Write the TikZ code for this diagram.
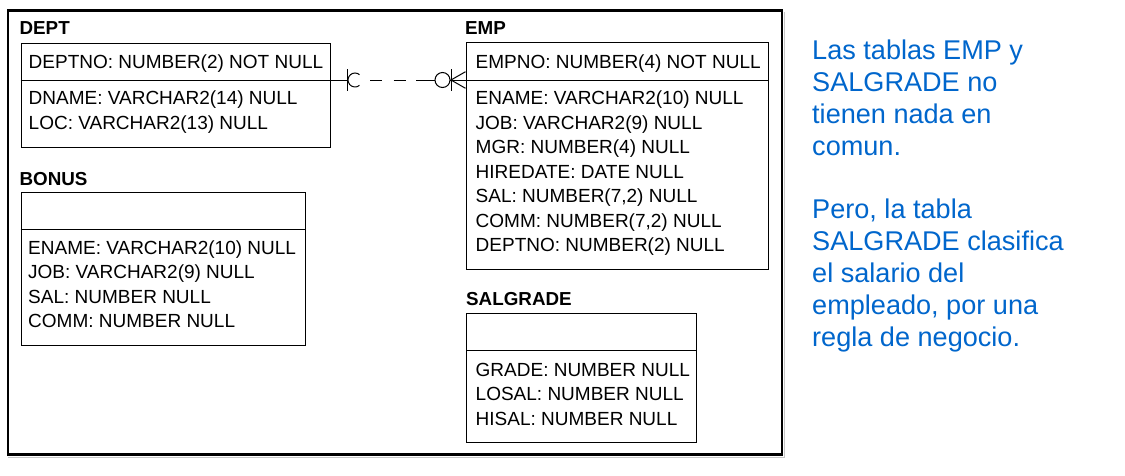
\documentclass[tikz,border=0pt]{standalone}
\usepackage{fontspec}
\setmainfont{Liberation Sans}
\usetikzlibrary{calc}
\definecolor{noteblue}{RGB}{0,102,204}
\tikzset{
  tbl/.style={draw=black, line width=1pt, inner sep=0pt, anchor=north west},
  ttl/.style={font=\fontsize{18.8}{19}\selectfont\bfseries, anchor=base west, inner sep=0pt},
  attr/.style={font=\fontsize{19}{20}\selectfont, anchor=base west, inner sep=0pt},
  note/.style={font=\fontsize{27.1}{32}\selectfont, text=noteblue, anchor=base west, inner sep=0pt},
  frame/.style={draw=black, line width=2.7pt},
  rel/.style={line width=1pt},
  sepline/.style={line width=1pt},
}
\begin{document}
\begin{tikzpicture}[x=1pt,y=-1pt]
\useasboundingbox (0,0) rectangle (1125,475);
\fill[white] (0,0) rectangle (1125,475);
% outer frame with faint shadow
\draw[gray!45, line width=1pt] (8,457) -- (784.5,457) -- (784.5,12);
\draw[frame] (8,10.7) rectangle (782,454.7);

% ---------- DEPT ----------
\node[ttl] (deptt) at (19.4,34.5) {DEPT};
\node[tbl, minimum width=309pt, minimum height=104pt] (dept) at (20.5,42.7) {};
\draw[sepline] (dept.west |- 0,80) -- (dept.east |- 0,80);
\node[attr] (d1) at (28.5,68.5) {DEPTNO: NUMBER(2) NOT NULL};
\node[attr] (d2) at (28.5,104.7) {DNAME: VARCHAR2(14) NULL};
\node[attr] (d3) at (28.5,129.2) {LOC: VARCHAR2(13) NULL};

% ---------- EMP ----------
\node[ttl] (empt) at (465,34.5) {EMP};
\node[tbl, minimum width=302.5pt, minimum height=226.7pt] (emp) at (465.5,42.3) {};
\draw[sepline] (emp.west |- 0,80) -- (emp.east |- 0,80);
\node[attr] (e1) at (475.5,68.5) {EMPNO: NUMBER(4) NOT NULL};
\node[attr] (e2) at (475.5,104.5) {ENAME: VARCHAR2(10) NULL};
\node[attr] (e3) at (475.5,129) {JOB: VARCHAR2(9) NULL};
\node[attr] (e4) at (475.5,153.5) {MGR: NUMBER(4) NULL};
\node[attr] (e5) at (475.5,178) {HIREDATE: DATE NULL};
\node[attr] (e6) at (475.5,202.5) {SAL: NUMBER(7,2) NULL};
\node[attr] (e7) at (475.5,227) {COMM: NUMBER(7,2) NULL};
\node[attr] (e8) at (475.5,251.5) {DEPTNO: NUMBER(2) NULL};

% ---------- BONUS ----------
\node[ttl] (bonust) at (19.4,185) {BONUS};
\node[tbl, minimum width=284.5pt, minimum height=153pt] (bonus) at (20.5,192) {};
\draw[sepline] (bonus.west |- 0,229) -- (bonus.east |- 0,229);
\node[attr] (b1) at (28,254) {ENAME: VARCHAR2(10) NULL};
\node[attr] (b2) at (28,278.5) {JOB: VARCHAR2(9) NULL};
\node[attr] (b3) at (28,303) {SAL: NUMBER NULL};
\node[attr] (b4) at (28,327.5) {COMM: NUMBER NULL};

% ---------- SALGRADE ----------
\node[ttl] (salt) at (466,305.5) {SALGRADE};
\node[tbl, minimum width=230pt, minimum height=129pt] (sal) at (466,313) {};
\draw[sepline] (sal.west |- 0,350) -- (sal.east |- 0,350);
\node[attr] (s1) at (475.5,376) {GRADE: NUMBER NULL};
\node[attr] (s2) at (475.5,400.5) {LOSAL: NUMBER NULL};
\node[attr] (s3) at (475.5,425) {HISAL: NUMBER NULL};

% ---------- relationship DEPT -> EMP ----------
\coordinate (ra) at (dept.east |- 0,80);
\coordinate (rb) at (emp.west |- 0,80);
% DEPT end: bar + half circle
\draw[rel] (ra) -- ($(ra)+(17,0)$);
\draw[rel] ($(ra)+(17,-11)$) -- ($(ra)+(17,11)$);
\draw[rel] ($(ra)+(24.5,0)+(50:7)$) arc[start angle=50, end angle=310, radius=7];
% dashed middle
\draw[rel, dash pattern=on 12pt off 11.5pt] ($(ra)+(39.5,0)$) -- ($(ra)+(75,0)$);
\draw[rel] ($(rb)+(-49.5,0)$) -- ($(rb)+(-30.5,0)$);
% EMP end: circle + bar + crow's foot
\draw[rel] ($(rb)+(-23,0)$) circle[radius=7.5];
\draw[rel] ($(rb)+(-15.5,0)$) -- (rb);
\draw[rel] ($(rb)+(-14.5,-11)$) -- ($(rb)+(-14.5,11)$);
\draw[rel] ($(rb)+(0,-8.3)$) -- ($(rb)+(-14.5,0)$) -- ($(rb)+(0,8.3)$);

% ---------- note ----------
\node[note] (n1) at (812,59.5) {Las tablas EMP y};
\node[note] (n2) at (812,91.5) {SALGRADE no};
\node[note] (n3) at (812,123.5) {tienen nada en};
\node[note] (n4) at (812,155.5) {comun.};
\node[note] (n5) at (812,218.5) {Pero, la tabla};
\node[note] (n6) at (812,250.5) {SALGRADE clasifica};
\node[note] (n7) at (812,282.5) {el salario del};
\node[note] (n8) at (812,314.5) {empleado, por una};
\node[note] (n9) at (812,346.5) {regla de negocio.};
\end{tikzpicture}
\end{document}
